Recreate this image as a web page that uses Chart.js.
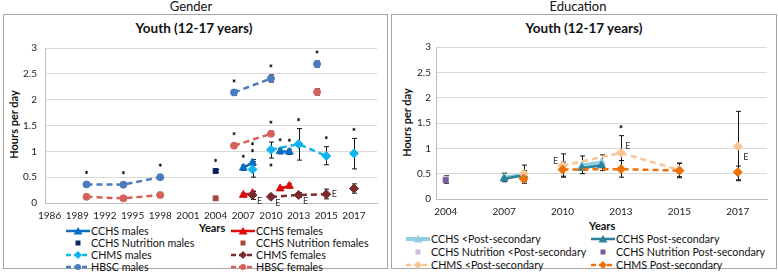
<!DOCTYPE html>
<html lang="en">
<head>
<meta charset="UTF-8">
<title>Youth (12-17 years) - hours per day</title>
<script src="https://cdn.jsdelivr.net/npm/chart.js@4.4.1/dist/chart.umd.min.js"></script>
<style>
  body { margin:0; width:778px; height:272px; background:#fff; position:relative; overflow:hidden;
         font-family: Lato, "Open Sans", sans-serif; color:#111; }
  .panel { position:absolute; top:14px; height:255px; border:1px solid #a6a6a6; box-sizing:border-box; }
  .head { position:absolute; top:-1px; height:15px; line-height:15px; font-size:13px; text-align:center; }
  .title { position:absolute; top:20px; line-height:16px; font-size:13.5px; font-weight:bold; text-align:center; }
  .ytitle { position:absolute; font-size:11px; font-weight:bold; transform:rotate(-90deg); white-space:nowrap; }
  .xtitle { position:absolute; font-size:11px; font-weight:bold; }
  .box { position:absolute; width:380px; height:180px; top:40px; }
  .box canvas { display:block; }
  .leg { position:absolute; font-size:10.7px; white-space:nowrap; height:13px; line-height:13px; }
  .leg svg { vertical-align:middle; margin-right:1px; position:relative; top:-1px; }
</style>
</head>
<body>
  <div class="head" style="left:141px;width:100px;">Gender</div>
  <div class="head" style="left:528px;width:100px;">Education</div>
  <div class="panel" style="left:3px;width:385px;"></div>
  <div class="panel" style="left:391px;width:386px;"></div>
  <div class="title" style="left:94px;width:200px;">Youth (12-17 years)</div>
  <div class="title" style="left:484px;width:200px;">Youth (12-17 years)</div>
  <div class="ytitle" style="left:-27px;top:118px;width:80px;text-align:center;">Hours per day</div>
  <div class="ytitle" style="left:366px;top:116px;width:80px;text-align:center;">Hours per day</div>
  <div class="xtitle" style="left:199px;top:221px;">Years</div>
  <div class="xtitle" style="left:589px;top:219px;">Years</div>

  <div class="box" style="left:4px;"><canvas id="genderChart" width="380" height="180"></canvas></div>
  <div class="box" style="left:393px;"><canvas id="eduChart" width="380" height="180"></canvas></div>
  <div id="genderLegend"></div>
  <div id="eduLegend"></div>

<script>
// categories (one slot per survey year; blanks are empty slots on the axis)
const years = ['1986','1987','1988','1989','1990','1991','1992','1993','1994','1995','1996','1997',
  '1998','1999','2000','2001','2002','2003','2004','2005','2006','2007','2008','2009','2010',
  '2011','2012','2013','','2014','2015','2016','','2017','',''];
const genderTicks = ['1986','1989','1992','1995','1998','2001','2004','2007','2010','2013','2015','2017'];
const eduTicks = ['2004','2007','2010','2013','2015','2017'];

// ---- Gender ----
const cchsYears = ['2007','2008','2009','2011','2012'];
const cchsMales = [0.68, 0.78, null, 1.00, 0.99];
const cchsMalesLo = [0.63, 0.73, null, 0.95, 0.94];
const cchsMalesHi = [0.73, 0.84, null, 1.05, 1.04];
const cchsMalesStar = [1, 1, 0, 1, 1];
const cchsFemales = [0.155, 0.19, null, 0.28, 0.33];
const cchsFemalesLo = [0.12, 0.15, null, 0.24, 0.29];
const cchsFemalesHi = [0.19, 0.23, null, 0.32, 0.37];

const nutYears = ['2004'];
const nutMales = [0.62];
const nutMalesLo = [0.59];
const nutMalesHi = [0.65];
const nutMalesStar = [1];
const nutFemales = [0.09];

const chmsYears = ['2008','2009','2010','2013','2015','2016','2017'];
const chmsMales = [0.65, null, 1.03, 1.14, 0.91, null, 0.96];
const chmsMalesLo = [0.50, null, 0.87, 0.83, 0.74, null, 0.66];
const chmsMalesHi = [0.80, null, 1.18, 1.44, 1.09, null, 1.25];
const chmsMalesStar = [2, 0, -1, 1, 1, 0, 1];
const chmsFemales = [0.155, null, 0.12, 0.155, 0.17, null, 0.28];
const chmsFemalesLo = [0.07, null, 0.09, 0.11, 0.08, null, 0.19];
const chmsFemalesHi = [0.22, null, 0.15, 0.20, 0.27, null, 0.37];
const chmsFemalesE = ['r', '', 'r', 'r', 'm', '', ''];

const hbscYears = ['1990','1994','1998','2002','2006','2010','2012','2014'];
const hbscMales = [0.36, 0.355, 0.50, null, 2.14, 2.41, null, 2.69];
const hbscMalesLo = [null, null, null, null, 2.09, 2.34, null, 2.63];
const hbscMalesHi = [null, null, null, null, 2.19, 2.48, null, 2.75];
const hbscMalesStar = [1, 1, 1, 0, 1, 1, 0, 1];
const hbscFemales = [0.12, 0.09, 0.155, null, 1.11, 1.34, null, 2.15];
const hbscFemalesLo = [null, null, null, null, null, 1.30, null, 2.09];
const hbscFemalesHi = [null, null, null, null, null, 1.39, null, 2.21];
const hbscFemalesStar = [0, 0, 0, 0, 1, 1, 0, 0];

// ---- Education ----
const cchsLowEdu = [0.42, 0.48, null, 0.66, 0.72];
const cchsLowEduLo = [0.34, 0.40, null, 0.50, 0.56];
const cchsLowEduHi = [0.51, 0.56, null, 0.85, 0.87];
const cchsPostEdu = [0.40, 0.47, null, 0.61, 0.66];
const cchsPostEduLo = [0.36, 0.43, null, 0.57, 0.62];
const cchsPostEduHi = [0.44, 0.51, null, 0.65, 0.70];
const nutLowEdu = [0.40];
const nutPostEdu = [0.37];
const nutPostEduLo = [0.31];
const nutPostEduHi = [0.46];
const chmsLowEdu = [0.50, null, 0.66, 0.91, 0.57, null, 1.04];
const chmsLowEduLo = [0.35, null, 0.45, 0.62, 0.44, null, 0.36];
const chmsLowEduHi = [0.67, null, 0.89, 1.25, 0.71, null, 1.73];
const chmsLowEduStar = [0, 0, 0, 1, 0, 0, 0];
const chmsLowEduE = ['', '', 'l', 'ur', '', '', 'dr'];
const chmsPostEdu = [0.40, null, 0.58, 0.59, 0.56, null, 0.53];
const chmsPostEduLo = [0.31, null, 0.43, 0.43, 0.42, null, 0.38];
const chmsPostEduHi = [0.50, null, 0.73, 0.76, 0.70, null, 0.65];

const pts = (xs, ys) => xs.map((x, i) => ({ x: x, y: ys[i] }));

function series(label, xs, ys, look, extra) {
  return Object.assign({
    label: label,
    data: pts(xs, ys),
    borderColor: look.line || look.color,
    backgroundColor: look.color,
    pointBackgroundColor: look.color,
    pointBorderColor: look.color,
    pointStyle: look.marker,
    pointRadius: look.size || 4,
    pointBorderWidth: 1,
    borderWidth: look.width || 2.5,
    borderDash: look.dash ? [6, 4] : [],
    showLine: look.show !== false,
    spanGaps: false,
    tension: 0,
    look: look
  }, extra || {});
}

const genderSets = [
  series('CCHS males', cchsYears, cchsMales, { color:'#0a6fc2', marker:'triangle', size:4.5 },
         { lo: cchsMalesLo, hi: cchsMalesHi, star: cchsMalesStar }),
  series('CCHS females', cchsYears, cchsFemales, { color:'#dd0a0a', marker:'triangle', size:4.5 },
         { lo: cchsFemalesLo, hi: cchsFemalesHi }),
  series('CCHS Nutrition males', nutYears, nutMales, { color:'#0c2461', marker:'rect', size:3.5, show:false },
         { lo: nutMalesLo, hi: nutMalesHi, star: nutMalesStar }),
  series('CCHS Nutrition females', nutYears, nutFemales, { color:'#a8443e', marker:'rect', size:3.5, show:false }),
  series('CHMS males', chmsYears, chmsMales, { color:'#12b4ef', marker:'rectRot', size:4.5, dash:true },
         { lo: chmsMalesLo, hi: chmsMalesHi, star: chmsMalesStar }),
  series('CHMS females', chmsYears, chmsFemales, { color:'#7b2b2b', marker:'rectRot', size:4.5, dash:true },
         { lo: chmsFemalesLo, hi: chmsFemalesHi, eMark: chmsFemalesE }),
  series('HBSC males', hbscYears, hbscMales, { color:'#4a7bbf', marker:'circle', size:3.5, dash:true },
         { lo: hbscMalesLo, hi: hbscMalesHi, star: hbscMalesStar }),
  series('HBSC females', hbscYears, hbscFemales, { color:'#d5615b', marker:'circle', size:3.5, dash:true },
         { lo: hbscFemalesLo, hi: hbscFemalesHi, star: hbscFemalesStar })
];

const eduSets = [
  series('CCHS <Post-secondary', cchsYears, cchsLowEdu, { color:'#93cfe4', marker:'triangle', size:4.5, width:4 },
         { lo: cchsLowEduLo, hi: cchsLowEduHi }),
  series('CCHS Post-secondary', cchsYears, cchsPostEdu, { color:'#2f8199', marker:'triangle', size:4.5 },
         { lo: cchsPostEduLo, hi: cchsPostEduHi }),
  series('CCHS Nutrition <Post-secondary', nutYears, nutLowEdu, { color:'#cbc0db', marker:'rect', size:3.5, show:false }),
  series('CCHS Nutrition Post-secondary', nutYears, nutPostEdu, { color:'#7a5c9c', marker:'rect', size:3.5, show:false },
         { lo: nutPostEduLo, hi: nutPostEduHi }),
  series('CHMS <Post-secondary', chmsYears, chmsLowEdu, { color:'#f9c596', marker:'rectRot', size:4.5, dash:true },
         { lo: chmsLowEduLo, hi: chmsLowEduHi, star: chmsLowEduStar, eMark: chmsLowEduE }),
  series('CHMS Post-secondary', chmsYears, chmsPostEdu, { color:'#ee7108', marker:'rectRot', size:4.5, dash:true },
         { lo: chmsPostEduLo, hi: chmsPostEduHi })
];
// later series sit on top, like the spreadsheet
genderSets.forEach((d, i) => d.order = -i);
eduSets.forEach((d, i) => d.order = -i);

const eOffsets = { r:[7, 6], m:[8, 0], l:[-7, -4], ur:[7, -7], dr:[8, 11] };

// error bars, significance stars and E flags
const marksPlugin = {
  id: 'marks',
  beforeDatasetsDraw(chart) {
    const ctx = chart.ctx, ys = chart.scales.y;
    ctx.save();
    ctx.strokeStyle = '#111';
    ctx.lineWidth = 1;
    chart.data.datasets.forEach((ds, i) => {
      if (!ds.lo) return;
      chart.getDatasetMeta(i).data.forEach((pt, j) => {
        if (ds.lo[j] == null || ds.data[j].y == null) return;
        const x = Math.round(pt.x) + 0.5;
        const top = ys.getPixelForValue(ds.hi[j]), bot = ys.getPixelForValue(ds.lo[j]);
        ctx.beginPath();
        ctx.moveTo(x, top); ctx.lineTo(x, bot);
        ctx.moveTo(x - 2.5, top); ctx.lineTo(x + 2.5, top);
        ctx.moveTo(x - 2.5, bot); ctx.lineTo(x + 2.5, bot);
        ctx.stroke();
      });
    });
    ctx.restore();
  },
  afterDatasetsDraw(chart) {
    const ctx = chart.ctx, ys = chart.scales.y;
    ctx.save();
    chart.data.datasets.forEach((ds, i) => {
      chart.getDatasetMeta(i).data.forEach((pt, j) => {
        const v = ds.data[j].y;
        if (v == null) return;
        if (ds.star && ds.star[j]) {
          const lvl = ds.star[j];
          const hasBar = ds.hi && ds.hi[j] != null;
          let y;
          if (lvl > 0) {
            y = ys.getPixelForValue(hasBar ? ds.hi[j] : v) - (hasBar ? 0 : 3) - 9 * lvl;
          } else {
            y = ys.getPixelForValue(ds.lo[j]) + 7;
          }
          ctx.strokeStyle = '#111';
          ctx.lineWidth = 1;
          ctx.beginPath();
          for (let a = 0; a < 3; a++) {
            const ang = Math.PI / 2 + a * Math.PI / 3;
            ctx.moveTo(pt.x - 1.6 * Math.cos(ang), y - 1.6 * Math.sin(ang));
            ctx.lineTo(pt.x + 1.6 * Math.cos(ang), y + 1.6 * Math.sin(ang));
          }
          ctx.stroke();
        }
        if (ds.eMark && ds.eMark[j]) {
          const off = eOffsets[ds.eMark[j]];
          ctx.fillStyle = '#333';
          ctx.font = '9px Lato, sans-serif';
          ctx.textAlign = 'center';
          ctx.textBaseline = 'middle';
          ctx.fillText('E', pt.x + off[0], pt.y + off[1]);
        }
      });
    });
    ctx.restore();
  }
};

function makeChart(id, sets, shown, range, box) {
  return new Chart(document.getElementById(id), {
    type: 'line',
    data: { labels: years, datasets: sets },
    options: {
      responsive: false,
      animation: false,
      devicePixelRatio: 1,
      layout: { autoPadding: false, padding: { top: box.top, right: box.right, left: 0, bottom: 0 } },
      plugins: { legend: { display: false }, tooltip: { enabled: false } },
      scales: {
        x: {
          type: 'category',
          offset: true,
          min: range[0], max: range[1],
          grid: { display: false, drawTicks: false },
          border: { color: '#bdbdbd' },
          ticks: {
            autoSkip: false, maxRotation: 0, padding: box.xpad,
            color: '#222', font: { family: 'Lato', size: 10 },
            callback: function (val) {
              const lab = this.getLabelForValue(val);
              return shown.includes(lab) ? lab : '';
            }
          },
          afterFit: s => { s.height = box.xh; s.paddingLeft = 0; s.paddingRight = 0; }
        },
        y: {
          min: 0, max: 3,
          grid: { color: '#d9d9d9', drawTicks: false },
          border: { color: '#bdbdbd' },
          ticks: {
            stepSize: 0.5, padding: box.ypad, color: '#222', font: { family: 'Lato', size: 10 },
            callback: v => String(Number(v.toFixed(1)))
          },
          // keep the plot box where the layout puts it
          afterFit: s => { s.width = box.yw; s.paddingTop = 0; s.paddingBottom = 0; }
        }
      }
    },
    plugins: [marksPlugin]
  });
}

makeChart('genderChart', genderSets, genderTicks, [0, years.length - 1],
  { top: 8, right: 7, xh: 17, xpad: 7, yw: 41, ypad: 8 });
makeChart('eduChart', eduSets, eduTicks, [years.indexOf('2004'), years.length - 2],
  { top: 7, right: 6, xh: 21, xpad: 7, yw: 43, ypad: 5 });

// legends in two columns, as in the source figure
function sample(look) {
  const c = look.color, line = look.line || c;
  let s = '<svg width="24" height="10">';
  if (look.show !== false) {
    s += `<line x1="0" y1="5" x2="24" y2="5" stroke="${line}" stroke-width="${look.width || 2.5}"` +
         (look.dash ? ' stroke-dasharray="5,3"' : '') + '/>';
  }
  if (look.marker === 'triangle') s += `<polygon points="12,1 16.5,8.5 7.5,8.5" fill="${c}"/>`;
  else if (look.marker === 'rect') s += `<rect x="9.5" y="2.5" width="5" height="5" fill="${c}"/>`;
  else if (look.marker === 'rectRot') s += `<polygon points="12,1 16,5 12,9 8,5" fill="${c}"/>`;
  else s += `<circle cx="12" cy="5" r="3" fill="${c}"/>`;
  return s + '</svg>';
}

function buildLegend(id, sets, cols, rows) {
  const host = document.getElementById(id);
  sets.forEach((ds, i) => {
    const d = document.createElement('div');
    d.className = 'leg';
    d.style.left = cols[i % 2] + 'px';
    d.style.top = (rows[Math.floor(i / 2)] - 7) + 'px';
    d.innerHTML = sample(ds.look);
    const t = document.createElement('span');
    t.textContent = ds.label;
    d.appendChild(t);
    host.appendChild(d);
  });
}
buildLegend('genderLegend', genderSets, [66, 231], [231, 243, 255, 267]);
buildLegend('eduLegend', eduSets, [406, 591], [239, 252, 265]);
</script>
</body>
</html>
